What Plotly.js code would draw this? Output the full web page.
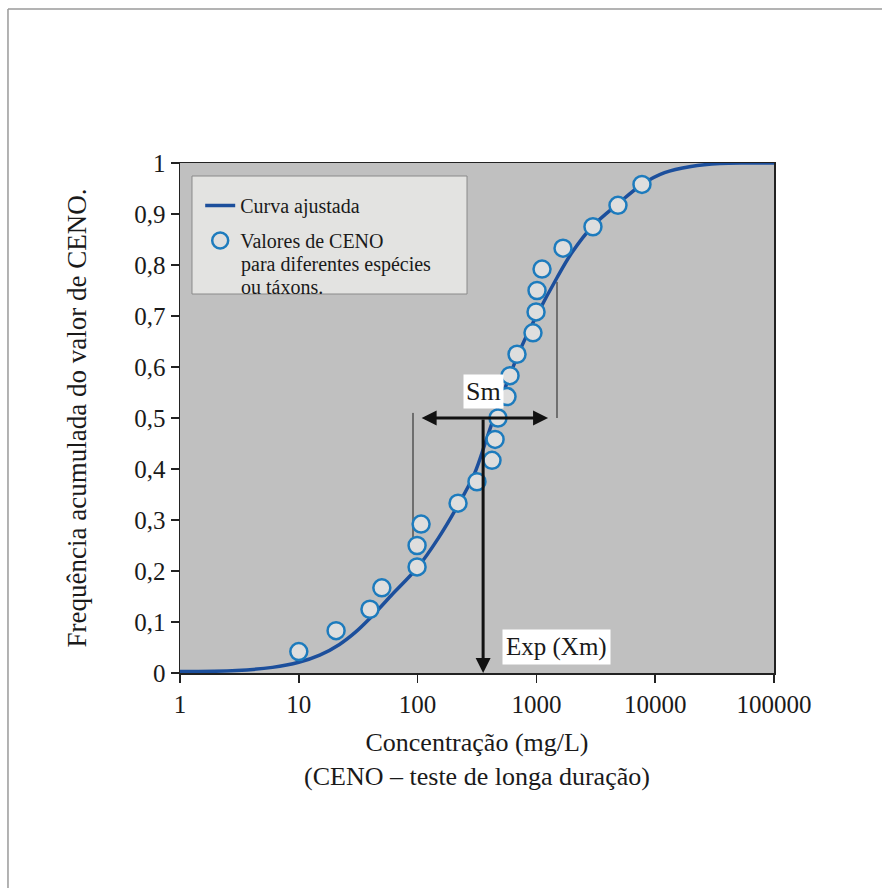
<!DOCTYPE html>
<html>
<head>
<meta charset="utf-8">
<script src="https://cdn.plot.ly/plotly-3.0.1.min.js"></script>
<style>html,body{margin:0;padding:0;background:#fff;}#chart{width:882px;height:888px;}</style>
</head>
<body>
<div id="chart"></div>
<script>
// Observed CENO values (mg/L) and cumulative frequency
const cenoValues = [10, 20.6, 39.7, 50, 99, 99, 107, 219, 316, 423, 449, 475, 566, 600, 687, 936, 993, 1012, 1115, 1675, 2993, 4860, 7740];
const cenoFreq = [0.042, 0.083, 0.125, 0.167, 0.208, 0.25, 0.292, 0.333, 0.375, 0.417, 0.458, 0.5, 0.542, 0.583, 0.625, 0.667, 0.708, 0.75, 0.792, 0.833, 0.875, 0.917, 0.958];

// Fitted curve
const curveX = [1, 3, 6, 10, 15, 22, 30, 40, 60, 100, 150, 220, 300, 370, 423, 500, 600, 750, 1000, 1490, 2000, 2993, 4860, 7740, 12000, 20000, 35000, 60000, 100000];
const curveY = [0.003, 0.005, 0.011, 0.021, 0.035, 0.056, 0.08, 0.108, 0.152, 0.207, 0.265, 0.33, 0.39, 0.45, 0.49, 0.535, 0.585, 0.64, 0.70, 0.775, 0.825, 0.877, 0.92, 0.958, 0.981, 0.993, 0.999, 1, 1];

// Annotation values
const expXm = 356;          // Exp(Xm)
const smArrow = [105, 1253]; // extent of Sm arrow
const smLevel = 0.5;
const smLeftLine = {x: 91.5, y: [0.255, 0.51]};
const smRightLine = {x: 1490, y: [0.5, 0.767]};

// Legend texts
const curveName = 'Curva ajustada';
const pointsName = 'Valores de CENO';
const pointsNameMore = ['para diferentes espécies', 'ou táxons.'];

// Tick labels
const xTickVals = [1, 10, 100, 1000, 10000, 100000];
const xTickText = ['1', '10', '100', '1000', '10000', '100000'];
const yTickVals = [0, 0.1, 0.2, 0.3, 0.4, 0.5, 0.6, 0.7, 0.8, 0.9, 1];
const yTickText = ['0', '0,1', '0,2', '0,3', '0,4', '0,5', '0,6', '0,7', '0,8', '0,9', '1'];

const serif = 'Liberation Serif';
const L = Math.log10;

const traces = [
  {x: [smLeftLine.x, smLeftLine.x], y: smLeftLine.y, mode: 'lines', line: {color: '#6e6e6e', width: 2}, showlegend: false, hoverinfo: 'skip'},
  {x: [smRightLine.x, smRightLine.x], y: smRightLine.y, mode: 'lines', line: {color: '#6e6e6e', width: 2}, showlegend: false, hoverinfo: 'skip'},
  {x: curveX, y: curveY, mode: 'lines', name: curveName, legendgroup: 'a', line: {color: '#1c4f9c', width: 3.5, shape: 'spline', smoothing: 1}},
  {x: cenoValues, y: cenoFreq, mode: 'markers', name: pointsName, legendgroup: 'b',
   marker: {symbol: 'circle', size: 17, color: '#dedede', line: {color: '#1d7bbd', width: 2.5}}, cliponaxis: false}
];

const legendTextX = (240 - 180) / 594;
const pyToPaper = function (py) { return (673 - py) / 510; };

const layout = {
  width: 882, height: 888,
  margin: {l: 180, r: 108, t: 163, b: 215},
  paper_bgcolor: '#ffffff',
  plot_bgcolor: '#c0c0c0',
  font: {family: serif, size: 20, color: '#1a1a1a'},
  showlegend: true,
  legend: {x: 0.034, y: 0.955, xanchor: 'left', yanchor: 'top', bgcolor: 'rgba(0,0,0,0)', borderwidth: 0,
           font: {family: serif, size: 20, color: '#1a1a1a'}, valign: 'middle', tracegroupgap: 6, traceorder: 'grouped'},
  xaxis: {type: 'log', range: [0, 5], tickvals: xTickVals, ticktext: xTickText, ticks: 'outside', ticklen: 8, tickwidth: 1.5, tickcolor: '#222',
          showline: true, linecolor: '#222', linewidth: 1.5, mirror: true, showgrid: false, zeroline: false,
          tickfont: {family: serif, size: 25},
          title: {text: 'Concentração (mg/L)<br>(CENO – teste de longa duração)', font: {family: serif, size: 26}, standoff: 16}},
  yaxis: {range: [0, 1], tickvals: yTickVals, ticktext: yTickText, ticks: 'outside', ticklen: 8, tickwidth: 1.5, tickcolor: '#222',
          showline: true, linecolor: '#222', linewidth: 1.5, mirror: true, showgrid: false, zeroline: false,
          tickfont: {family: serif, size: 25},
          title: {text: 'Frequência acumulada do valor de CENO.', font: {family: serif, size: 27}, standoff: 40}},
  shapes: [
    {type: 'rect', xref: 'paper', yref: 'paper', x0: 0.0202, x1: 0.4832, y0: pyToPaper(294), y1: 0.9745,
     fillcolor: '#e3e3e1', line: {color: '#8a8a8a', width: 1}, layer: 'below'},
    {type: 'line', xref: 'paper', yref: 'paper', x0: -0.2896, x1: 1.182, y0: 1.302, y1: 1.302, line: {color: '#9a9a9a', width: 1.5}},
    {type: 'line', xref: 'paper', yref: 'paper', x0: -0.2896, x1: -0.2896, y0: -0.4216, y1: 1.302, line: {color: '#9a9a9a', width: 1.5}}
  ],
  annotations: [
    {x: L(smArrow[1]), y: smLevel, ax: L(smArrow[0]), ay: smLevel, xref: 'x', yref: 'y', axref: 'x', ayref: 'y',
     text: '', showarrow: true, arrowhead: 2, arrowside: 'end+start', arrowsize: 1, arrowwidth: 3, arrowcolor: '#111'},
    {x: L(expXm), y: 0, ax: L(expXm), ay: smLevel, xref: 'x', yref: 'y', axref: 'x', ayref: 'y',
     text: '', showarrow: true, arrowhead: 2, arrowsize: 1, arrowwidth: 3, arrowcolor: '#111'},
    {x: L(expXm), y: 0.551, xref: 'x', yref: 'y', text: 'Sm', showarrow: false, bgcolor: '#ffffff', borderpad: 2,
     font: {family: serif, size: 26, color: '#1a1a1a'}},
    {x: L(expXm) + 0.62, y: 0.051, xref: 'x', yref: 'y', text: 'Exp (Xm)', showarrow: false, bgcolor: '#ffffff', borderpad: 3,
     font: {family: serif, size: 25, color: '#1a1a1a'}},
    {x: legendTextX, y: pyToPaper(264), xref: 'paper', yref: 'paper', xanchor: 'left', yanchor: 'middle', text: pointsNameMore[0],
     showarrow: false, font: {family: serif, size: 20, color: '#1a1a1a'}, borderpad: 0},
    {x: legendTextX, y: pyToPaper(287), xref: 'paper', yref: 'paper', xanchor: 'left', yanchor: 'middle', text: pointsNameMore[1],
     showarrow: false, font: {family: serif, size: 20, color: '#1a1a1a'}, borderpad: 0}
  ]
};

Plotly.newPlot('chart', traces, layout, {displayModeBar: false, staticPlot: true});
</script>
</body>
</html>
